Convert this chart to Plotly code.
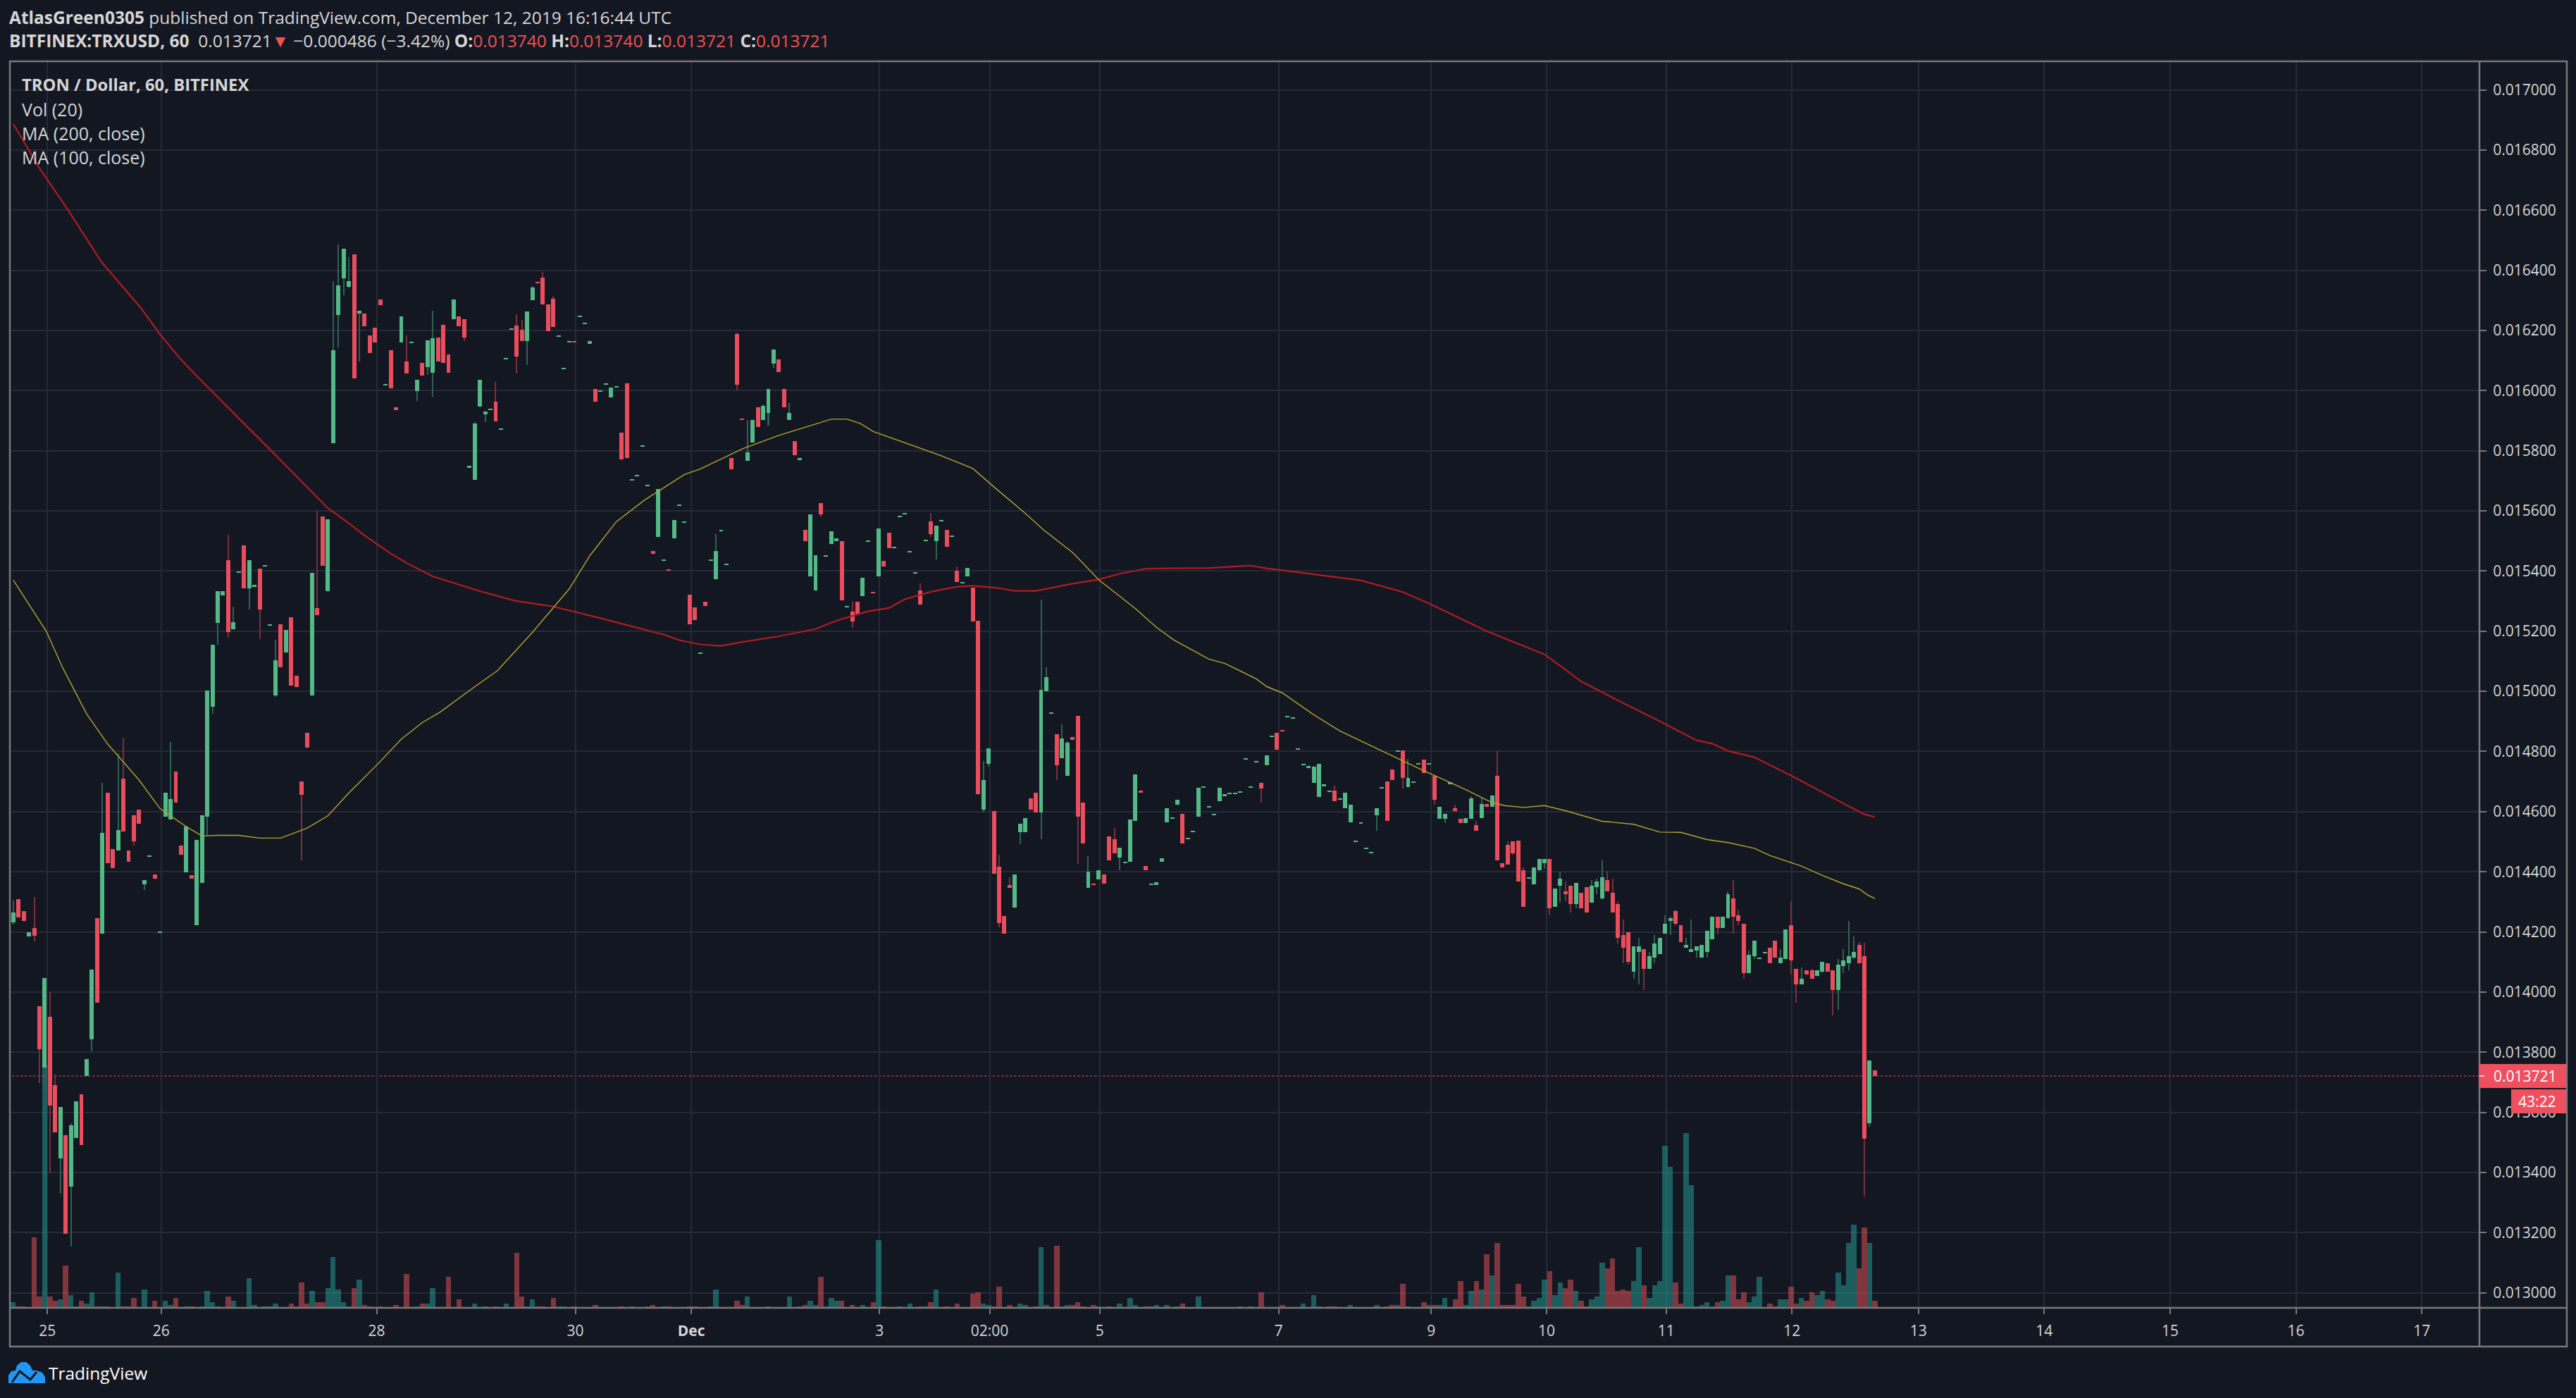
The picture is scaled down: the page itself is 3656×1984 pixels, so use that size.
import plotly.graph_objects as go

# prices below are in millionths of a dollar, one candle per bar index
opens = [
    14231, 14310, 14270, 14185, 14213, 13952, 13750, 13918, 13690, 13446,
    13524, 13352, 13515, 13661, 13720, 13842, 14246, 14194, 14662, 14476,
    14471, 14710, 14471, 14588, 14607, 14358, 14450, 14392, 14198, 14583,
    14574, 14734, 14486, 14397, 14388, 14222, 14363, 14583, 14949, 15227,
    15320, 15437, 15207, 15396, 15486, 15343, 15348, 15408, 15415, 15217,
    14987, 15222, 15129, 15246, 15052, 14701, 14861, 14987, 15276, 15582,
    15334, 15826, 16252, 16373, 16345, 16452, 16256, 16256, 16184, 16209,
    16302, 16017, 16134, 15944, 16159, 16096, 16159, 15998, 16091, 16077,
    16060, 16177, 16218, 16120, 16237, 16247, 16237, 15744, 15704, 15948,
    15920, 15934, 15963, 15871, 16105, 16203, 16216, 16202, 16164, 16300,
    16360, 16375, 16286, 16305, 16179, 16072, 16161, 16164, 16245, 16222,
    16156, 16006, 15996, 16019, 15977, 16010, 15860, 16024, 15701, 15716,
    15813, 15682, 15467, 15514, 15434, 15406, 15509, 15616, 15560, 15322,
    15280, 15125, 15299, 15434, 15373, 15533, 15420, 15776, 16188, 15907,
    15766, 15827, 15945, 15902, 15926, 16090, 16104, 16006, 15902, 15832,
    15771, 15537, 15383, 15336, 15626, 15448, 15490, 15499, 15499, 15280,
    15265, 15299, 15317, 15497, 15331, 15383, 15434, 15528, 15476, 15580,
    15590, 15463, 15392, 15335, 15500, 15565, 15499, 15565, 15537, 15514,
    15400, 15360, 15383, 15345, 15234, 14607, 14759, 14601, 14416, 14253,
    14356, 14281, 14532, 14532, 14643, 14662, 14598, 15001, 14927, 14857,
    14778, 14718, 14847, 14918, 14629, 14346, 14360, 14374, 14392, 14517,
    14508, 14448, 14429, 14434, 14570, 14671, 14420, 14356, 14356, 14434,
    14564, 14578, 14624, 14592, 14508, 14532, 14583, 14680, 14615, 14588,
    14634, 14652, 14657, 14657, 14662, 14774, 14680, 14765, 14695, 14755,
    14849, 14862, 14871, 14914, 14909, 14807, 14755, 14746, 14695, 14648,
    14686, 14667, 14671, 14640, 14612, 14565, 14500, 14561, 14476, 14462,
    14589, 14678, 14701, 14739, 14801, 14804, 14682, 14697, 14758, 14772,
    14758, 14720, 14575, 14575, 14692, 14612, 14575, 14561, 14575, 14556,
    14579, 14626, 14617, 14720, 14429, 14490, 14500, 14504, 14406, 14378,
    14359, 14406, 14429, 14443, 14284, 14354, 14335, 14354, 14293, 14331,
    14349, 14298, 14349, 14312, 14373, 14331, 14293, 14190, 14199, 14068,
    14134, 14143, 14077, 14115, 14127, 14195, 14237, 14270, 14223, 14148,
    14134, 14138, 14115, 14134, 14176, 14251, 14213, 14246, 14312, 14255,
    14227, 14063, 14119, 14110, 14129, 14148, 14171, 14096, 14110, 14223,
    14077, 14026, 14073, 14073, 14054, 14068, 14096, 14073, 14007, 14087,
    14096, 14115, 14157, 14119, 13563, 13740,
]
closes = [
    14264, 14247, 14237, 14200, 14187, 13811, 14046, 13622, 13534, 13618,
    13197, 13558, 13637, 13491, 13778, 14074, 13965, 14529, 14428, 14411,
    14538, 14533, 14433, 14500, 14559, 14373, 14452, 14378, 14200, 14662,
    14641, 14631, 14457, 14550, 14378, 14505, 14588, 15002, 15155, 15334,
    15334, 15198, 15231, 15399, 15343, 15437, 15353, 15272, 15418, 15222,
    15104, 15081, 15203, 15019, 15014, 14655, 14813, 15393, 15253, 15418,
    15573, 16134, 16350, 16472, 16364, 16041, 16266, 16213, 16125, 16159,
    16285, 16022, 16008, 15936, 16247, 16056, 16163, 16036, 16051, 16168,
    16173, 16096, 16091, 16060, 16302, 16213, 16177, 15749, 15891, 16036,
    15930, 15939, 15898, 15873, 16108, 16206, 16113, 16164, 16263, 16342,
    16357, 16286, 16197, 16212, 16183, 16075, 16164, 16161, 16248, 16225,
    16164, 15963, 16001, 16024, 16010, 16015, 15771, 15776, 15705, 15720,
    15818, 15687, 15457, 15673, 15438, 15402, 15570, 15621, 15565, 15223,
    15238, 15129, 15284, 15438, 15467, 15537, 15425, 15738, 16019, 15903,
    15795, 15902, 15879, 15949, 16006, 16136, 16061, 15945, 15926, 15785,
    15775, 15499, 15589, 15453, 15589, 15452, 15532, 15509, 15303, 15284,
    15232, 15257, 15377, 15500, 15326, 15541, 15415, 15476, 15480, 15584,
    15593, 15467, 15396, 15289, 15505, 15523, 15551, 15570, 15480, 15518,
    15364, 15364, 15411, 15232, 14657, 14704, 14811, 14393, 14230, 14194,
    14346, 14392, 14560, 14579, 14607, 14598, 15006, 15048, 14931, 14755,
    14843, 14830, 14839, 14583, 14495, 14401, 14356, 14406, 14360, 14439,
    14462, 14481, 14434, 14573, 14723, 14662, 14406, 14360, 14365, 14444,
    14611, 14582, 14639, 14495, 14513, 14536, 14680, 14685, 14619, 14592,
    14680, 14657, 14662, 14662, 14667, 14777, 14685, 14769, 14676, 14787,
    14853, 14806, 14867, 14918, 14913, 14811, 14759, 14751, 14750, 14759,
    14690, 14671, 14634, 14645, 14664, 14622, 14503, 14564, 14480, 14467,
    14612, 14682, 14570, 14706, 14804, 14711, 14711, 14701, 14762, 14729,
    14762, 14640, 14617, 14593, 14697, 14603, 14561, 14579, 14645, 14537,
    14626, 14617, 14654, 14439, 14415, 14423, 14462, 14368, 14284, 14382,
    14415, 14443, 14443, 14279, 14345, 14378, 14326, 14293, 14363, 14279,
    14265, 14354, 14368, 14382, 14335, 14265, 14180, 14148, 14101, 14152,
    14152, 14077, 14119, 14162, 14180, 14227, 14246, 14227, 14166, 14157,
    14143, 14152, 14157, 14204, 14251, 14213, 14251, 14326, 14251, 14237,
    14063, 14124, 14171, 14115, 14134, 14096, 14115, 14115, 14209, 14106,
    14026, 14044, 14058, 14044, 14073, 14101, 14068, 14007, 14091, 14105,
    14119, 14134, 14096, 13512, 13773, 13721,
]
# only bars with a visible wick are listed: (bar, price)
wick_highs = [
    (0, 14305), (4, 14316), (7, 14000), (8, 13725), (11, 13565), (17, 14696), (20, 14794), (21, 14846),
    (30, 14832), (41, 15521), (42, 15281), (50, 15172), (58, 15600), (61, 16364), (62, 16486), (64, 16443),
    (75, 16183), (80, 16266), (88, 15896), (92, 16029), (96, 16254), (97, 16235), (99, 16348), (101, 16395),
    (103, 16315), (134, 15523), (138, 16193), (140, 15902), (143, 15953), (148, 15959), (160, 15299),
    (173, 15359), (175, 15593), (180, 15415), (185, 14769), (188, 14457), (190, 14382), (196, 15304),
    (197, 15080), (200, 14890), (201, 14834), (205, 14453), (210, 14545), (252, 14686), (266, 14776),
    (275, 14622), (278, 14650), (279, 14570), (280, 14646), (283, 14800), (285, 14500), (288, 14415),
    (295, 14401), (296, 14368), (301, 14373), (302, 14378), (303, 14439), (304, 14401), (305, 14378),
    (306, 14302), (307, 14241), (310, 14180), (312, 14134), (313, 14190), (315, 14255), (316, 14251),
    (317, 14274), (319, 14180), (320, 14241), (327, 14335), (328, 14373), (329, 14274), (331, 14138),
    (337, 14143), (339, 14303), (341, 14082), (343, 14077), (348, 14110), (349, 14143), (350, 14237),
    (351, 14185), (352, 14166), (353, 14164),
]
wick_lows = [
    (0, 14224), (4, 14168), (5, 13698), (6, 13670), (7, 13400), (9, 13329), (11, 13154), (15, 13802),
    (23, 14488), (25, 14340), (37, 14519), (38, 14925), (39, 15155), (41, 15179), (45, 15272), (47, 15174),
    (50, 14982), (55, 14437), (62, 16144), (63, 16316), (64, 16340), (66, 16096), (77, 15965), (79, 16053),
    (80, 15979), (86, 16165), (90, 15896), (96, 16057), (98, 16085), (138, 16001), (144, 15884), (145, 16075),
    (154, 15579), (160, 15210), (175, 15514), (176, 15438), (185, 14598), (186, 14750), (188, 14216),
    (192, 14491), (196, 14509), (199, 14704), (203, 14426), (211, 14406), (238, 14629), (260, 14537),
    (265, 14678), (271, 14622), (273, 14561), (286, 14457), (292, 14410), (293, 14255), (295, 14298),
    (296, 14302), (297, 14265), (298, 14279), (302, 14326), (303, 14307), (306, 14162), (307, 14096),
    (308, 14091), (309, 14044), (310, 14026), (311, 14007), (313, 14096), (316, 14190), (317, 14223),
    (321, 14115), (323, 14115), (325, 14195), (328, 14195), (329, 14223), (330, 14044), (332, 14110),
    (339, 14058), (340, 13965), (345, 14063), (347, 13922), (348, 13941), (349, 14063), (350, 14073),
    (351, 14110), (353, 13321), (354, 13553),
]
# (bar, volume) in the pane's own unit, bars with almost no volume left out
volumes = [
    (0, 8), (1, 2), (2, 2), (4, 100), (5, 16), (6, 345), (7, 16), (8, 10), (9, 12), (10, 60), (11, 18),
    (12, 2), (13, 10), (14, 6), (15, 22), (16, 2), (17, 2), (18, 2), (20, 50), (21, 2), (22, 2), (23, 14),
    (25, 26), (27, 10), (29, 10), (30, 4), (31, 14), (33, 2), (34, 2), (36, 2), (37, 24), (38, 8), (39, 2),
    (41, 16), (42, 10), (45, 42), (46, 4), (48, 2), (49, 2), (50, 6), (53, 6), (54, 2), (55, 36), (56, 6),
    (57, 24), (58, 8), (59, 8), (60, 28), (61, 72), (62, 26), (63, 8), (64, 2), (65, 28), (66, 40), (67, 4),
    (68, 2), (70, 2), (73, 4), (75, 48), (77, 2), (78, 6), (79, 6), (80, 28), (83, 44), (85, 12), (88, 6),
    (90, 2), (92, 2), (94, 6), (96, 78), (97, 16), (98, 2), (99, 12), (100, 2), (101, 2), (103, 14), (104, 2),
    (105, 2), (107, 2), (111, 4), (116, 2), (118, 2), (121, 2), (122, 4), (124, 2), (125, 2), (129, 2),
    (130, 2), (133, 2), (134, 26), (138, 10), (139, 4), (140, 16), (144, 2), (148, 16), (150, 2), (151, 4),
    (152, 10), (153, 4), (154, 44), (155, 2), (156, 14), (157, 10), (158, 10), (160, 4), (162, 4), (164, 8),
    (165, 96), (166, 2), (169, 2), (171, 6), (173, 2), (174, 2), (175, 8), (176, 26), (178, 2), (180, 6),
    (183, 20), (184, 22), (185, 6), (186, 4), (187, 2), (188, 30), (190, 4), (192, 6), (193, 4), (195, 2),
    (196, 86), (197, 4), (199, 88), (200, 2), (201, 4), (202, 4), (203, 8), (204, 2), (206, 4), (207, 2),
    (209, 2), (211, 6), (213, 14), (214, 4), (216, 2), (217, 2), (218, 4), (220, 4), (222, 2), (223, 6),
    (226, 16), (234, 2), (236, 2), (238, 22), (242, 4), (246, 6), (248, 18), (249, 2), (251, 2), (252, 2),
    (255, 4), (260, 4), (262, 2), (263, 4), (264, 4), (265, 34), (266, 2), (269, 8), (270, 4), (271, 4),
    (272, 4), (273, 14), (275, 12), (276, 38), (277, 4), (278, 24), (279, 38), (280, 26), (281, 76), (282, 46),
    (283, 92), (284, 4), (285, 4), (286, 4), (287, 34), (288, 16), (289, 2), (290, 10), (291, 14), (292, 40),
    (293, 52), (294, 18), (295, 36), (296, 28), (297, 40), (298, 24), (299, 10), (300, 2), (301, 12), (302, 16),
    (303, 64), (304, 56), (305, 70), (306, 24), (307, 26), (308, 24), (309, 38), (310, 86), (311, 32), (312, 14),
    (313, 32), (314, 38), (315, 230), (316, 200), (317, 36), (318, 6), (319, 248), (320, 174), (321, 2), (322, 4),
    (323, 8), (324, 2), (325, 8), (326, 10), (327, 46), (328, 46), (329, 12), (330, 22), (331, 8), (332, 16),
    (333, 44), (335, 6), (336, 2), (337, 12), (338, 12), (339, 30), (340, 6), (341, 14), (342, 10), (343, 22),
    (344, 18), (345, 24), (346, 12), (347, 10), (348, 50), (349, 32), (350, 92), (351, 118), (352, 56), (353, 114),
    (354, 92), (355, 10),
]
# moving averages read at a spread of bars: (bar, price)
ma_200 = [
    (0, 16887), (5, 16740), (10.7, 16594), (16.9, 16426), (24.2, 16278), (28, 16187), (32, 16103), (35, 16048),
    (41, 15943), (46, 15857), (50, 15786), (57, 15662), (60, 15609), (63.5, 15566), (67, 15518), (72, 15458),
    (75, 15427), (80, 15382), (85, 15355), (89, 15333), (95.7, 15301), (103, 15282), (112, 15243), (124, 15189),
    (127, 15170), (131, 15156), (135, 15151), (139, 15164), (146, 15183), (153, 15207), (157, 15235), (163, 15266),
    (167, 15277), (170, 15306), (175, 15331), (180, 15348), (183, 15351), (187.6, 15344), (191, 15334), (195, 15334),
    (203, 15361), (207, 15372), (211, 15391), (216, 15408), (220, 15409), (228, 15410), (236, 15418), (239, 15409),
    (245, 15396), (253, 15378), (257, 15369), (265, 15330), (270, 15292), (281, 15200), (292, 15123), (296, 15072),
    (299, 15033), (306, 14970), (314.5, 14896), (321, 14837), (324, 14826), (327, 14802), (332, 14781), (339, 14720),
    (345.3, 14661), (350, 14618), (353, 14591), (355, 14582),
]
ma_100 = [
    (0, 15370), (6.3, 15200), (9.5, 15076), (14, 14925), (18, 14825), (24, 14705), (28, 14610), (33, 14550),
    (36, 14519), (39, 14521), (43, 14521), (47, 14512), (51, 14512), (56, 14545), (60, 14586), (64, 14662),
    (69.5, 14758), (74, 14841), (78, 14896), (81.5, 14932), (87.5, 15009), (92.3, 15068), (99, 15196), (106, 15340),
    (110, 15452), (115, 15564), (120.4, 15636), (128, 15721), (131, 15739), (139, 15806), (146, 15851), (155, 15900),
    (156, 15905), (159, 15905), (161.5, 15891), (164, 15864), (170.5, 15824), (177, 15783), (183, 15741), (187, 15680),
    (193, 15592), (196.6, 15535), (202, 15462), (207, 15371), (214, 15275), (218, 15213), (221.3, 15171), (228, 15107),
    (231, 15093), (237, 15042), (239, 15016), (242, 14995), (248, 14922), (253, 14868), (260, 14810), (269, 14736),
    (277, 14673), (282, 14630), (284.4, 14620), (288, 14614), (292, 14620), (296, 14603), (303, 14568), (309, 14558),
    (314, 14532), (318, 14531), (323, 14507), (327, 14497), (332, 14478), (335, 14454), (341, 14419), (345, 14388),
    (349, 14360), (352, 14343), (353.6, 14323), (355, 14311),
]
last_price = 13721
x_ticks = [6.5, 28.2, 69.3, 107.2, 129.3, 165.2, 186.2, 207.2, 241.3, 270.4, 292.4, 315.2, 339.2, 363.3, 387.3, 411.3, 435.3, 459.3]
x_labels = ["25", "26", "28", "30", "<b>Dec</b>", "3", "02:00", "5", "7", "9", "10", "11", "12", "13", "14", "15", "16", "17"]
y_ticks = [13000 + 200 * n for n in range(21)]

BG = "#131722"
UP = "#53b987"
DOWN = "#eb4d5c"
UP_WICK = "#2f6152"
DOWN_WICK = "#792f3e"
VOL_UP = "rgba(38,166,154,0.5)"
VOL_DOWN = "rgba(239,83,90,0.5)"
GRID = "#262a38"
FRAME = "#787878"
TEXT = "#d6d6d6"
FONT = "Open Sans"
W, H = 3656, 1984
LEFT, RIGHT, TOP, BOTTOM, OUTER_RIGHT, OUTER_BOTTOM = 14, 3519, 87, 1856, 3643, 1911


def px(x):
    return x / W


def py(y):
    return 1 - y / H


def price(v):
    return v / 1e6


bars = list(range(len(opens)))
highs = [max(o, c) for o, c in zip(opens, closes)]
lows = [min(o, c) for o, c in zip(opens, closes)]
for i, v in wick_highs:
    highs[i] = max(highs[i], v)
for i, v in wick_lows:
    lows[i] = min(lows[i], v)
is_up = [c >= o for o, c in zip(opens, closes)]

fig = go.Figure()

fig.add_trace(go.Bar(
    x=[i for i, _ in volumes],
    y=[v for _, v in volumes],
    width=1.0,
    marker=dict(color=[VOL_UP if is_up[i] else VOL_DOWN for i, _ in volumes], line_width=0),
    yaxis="y",
    name="Vol (20)",
))
fig.add_trace(go.Scatter(
    x=[i for i, _ in ma_200], y=[price(v) for _, v in ma_200],
    mode="lines", line=dict(color="#b31b20", width=2.2), yaxis="y2", name="MA (200, close)",
))
fig.add_trace(go.Scatter(
    x=[i for i, _ in ma_100], y=[price(v) for _, v in ma_100],
    mode="lines", line=dict(color="#b5a72c", width=1.4), yaxis="y2", name="MA (100, close)",
))
fig.add_trace(go.Bar(
    x=bars,
    y=[price(h - l) for h, l in zip(highs, lows)],
    base=[price(l) for l in lows],
    width=0.27,
    marker=dict(color=[UP_WICK if u else DOWN_WICK for u in is_up], line_width=0),
    yaxis="y2",
    name="wicks",
))
fig.add_trace(go.Bar(
    x=bars,
    y=[price(abs(c - o)) for o, c in zip(opens, closes)],
    base=[price(min(o, c)) for o, c in zip(opens, closes)],
    width=0.8,
    marker=dict(color=[UP if u else DOWN for u in is_up], line_width=0),
    yaxis="y2",
    name="TRXUSD",
))

shapes = [
    dict(type="line", xref="x", yref="y2", x0=-1, x1=480, y0=price(last_price), y1=price(last_price),
         line=dict(color="#8a2f40", width=2, dash="dot"), layer="below"),
    dict(type="rect", xref="paper", yref="paper", x0=px(LEFT), x1=px(OUTER_RIGHT), y0=py(TOP), y1=py(OUTER_BOTTOM),
         line=dict(color=FRAME, width=2.5)),
    dict(type="line", xref="paper", yref="paper", x0=px(RIGHT), x1=px(RIGHT), y0=py(TOP), y1=py(OUTER_BOTTOM),
         line=dict(color=FRAME, width=2.5)),
    dict(type="line", xref="paper", yref="paper", x0=px(LEFT), x1=px(OUTER_RIGHT), y0=py(BOTTOM), y1=py(BOTTOM),
         line=dict(color=FRAME, width=2.5)),
    # last price and countdown tags
    dict(type="rect", xref="paper", yref="paper", x0=px(3518), x1=px(3642), y0=py(1510), y1=py(1544),
         fillcolor="#ef5060", line_width=0),
    dict(type="rect", xref="paper", yref="paper", x0=px(3564), x1=px(3642), y0=py(1546), y1=py(1580),
         fillcolor="#ef5060", line_width=0),
    dict(type="line", xref="paper", yref="paper", x0=px(3519), x1=px(3526), y0=py(1527), y1=py(1527),
         line=dict(color="#f3c4c9", width=2)),
]

# TradingView cloud mark
cloud = [(12, 1963), (12, 1952), (16, 1946), (22, 1945), (24, 1938), (30, 1933), (37, 1933), (43, 1938), (46, 1945),
         (52, 1945), (60, 1948), (64, 1954), (64, 1963)]
shapes.append(dict(type="path", xref="paper", yref="paper",
                   path="M " + " L ".join(f"{px(x):.5f},{py(y):.5f}" for x, y in cloud) + " Z",
                   fillcolor="#2196f3", line_width=0))
glyph = [(17, 1962), (28, 1946), (43, 1958), (52, 1947)]
shapes.append(dict(type="path", xref="paper", yref="paper",
                   path="M " + " L ".join(f"{px(x):.5f},{py(y):.5f}" for x, y in glyph),
                   line=dict(color=BG, width=3)))


def label(x, y, text, size=24.5, color=TEXT, anchor="left"):
    return dict(xref="paper", yref="paper", x=px(x), y=py(y), text=text, showarrow=False, xanchor=anchor,
                yanchor="middle", font=dict(family=FONT, size=size, color=color), align="left")


red = "#ef5350"
annotations = [
    label(11, 25, "<b>AtlasGreen0305</b> published on TradingView.com, December 12, 2019 16:16:44 UTC"),
    label(11, 58, "<b>BITFINEX:TRXUSD, 60</b>  0.013721"
                  f"<span style='color:{red}'>▼</span> −0.000486 (−3.42%) "
                  f"<b>O:</b><span style='color:{red}'>0.013740</span> "
                  f"<b>H:</b><span style='color:{red}'>0.013740</span> "
                  f"<b>L:</b><span style='color:{red}'>0.013721</span> "
                  f"<b>C:</b><span style='color:{red}'>0.013721</span>"),
    label(29, 120, "<b>TRON / Dollar, 60, BITFINEX</b>", size=23.8),
    label(29, 155, "Vol (20)", size=25),
    label(29, 189, "MA (200, close)", size=25),
    label(29, 223, "MA (100, close)", size=25),
    label(3537, 1527, "0.013721", size=21, color="#ffffff"),
    label(3572, 1563, "43:22", size=21, color="#ffffff"),
    label(67, 1948, "TradingView", size=24.5, color="#ffffff"),
]

fig.update_layout(
    width=W,
    height=H,
    margin=dict(l=0, r=0, t=0, b=0),
    paper_bgcolor=BG,
    plot_bgcolor=BG,
    barmode="overlay",
    bargap=0,
    showlegend=False,
    font=dict(family=FONT, size=21, color=TEXT),
    shapes=shapes,
    annotations=annotations,
    xaxis=dict(
        domain=[px(LEFT), px(RIGHT)],
        range=[-0.64, 470.3],
        tickmode="array",
        tickvals=x_ticks,
        ticktext=x_labels,
        showgrid=True,
        gridcolor=GRID,
        gridwidth=2,
        zeroline=False,
        ticks="outside",
        ticklen=8,
        tickwidth=2,
        tickcolor=FRAME,
        tickangle=0,
        showline=False,
        tickfont=dict(family=FONT, size=21, color=TEXT),
        ticklabelstandoff=6,
    ),
    yaxis=dict(
        domain=[py(BOTTOM), py(TOP)],
        range=[0, 1769],
        visible=False,
        showgrid=False,
        fixedrange=True,
    ),
    yaxis2=dict(
        overlaying="y",
        side="right",
        anchor="x",
        range=[price(12950), price(17095)],
        tickmode="array",
        tickvals=[price(v) for v in y_ticks],
        ticktext=[f"{price(v):.6f}" for v in y_ticks],
        showgrid=True,
        gridcolor=GRID,
        gridwidth=2,
        zeroline=False,
        ticks="outside",
        ticklen=9,
        tickwidth=2,
        tickcolor=FRAME,
        showline=False,
        tickfont=dict(family=FONT, size=21, color=TEXT),
        ticklabelstandoff=5,
    ),
)

fig.write_html(
    "out.html",
    config={"displayModeBar": False},
    post_script="document.body.style.margin='0';document.body.style.background='#131722';",
)
